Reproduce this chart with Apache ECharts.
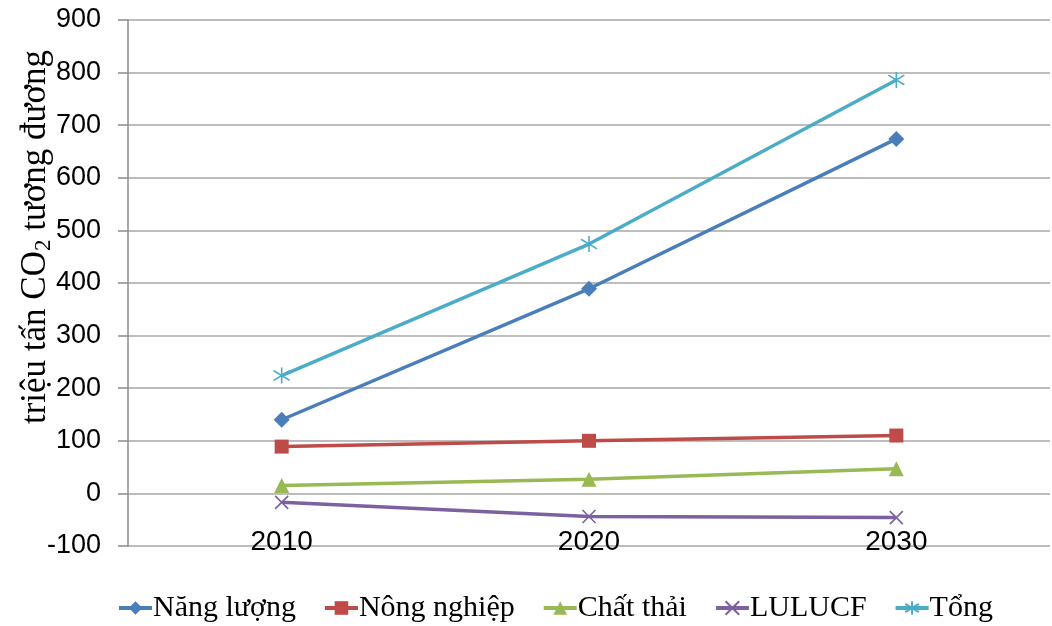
<!DOCTYPE html>
<html>
<head>
<meta charset="utf-8">
<script src="https://cdn.jsdelivr.net/npm/echarts@6/dist/echarts.min.js"></script>
<style>html,body{margin:0;padding:0;background:#fff}#c{width:1052px;height:626px}</style>
</head>
<body>
<div id="c"></div>
<script>
var categories = ['2010', '2020', '2030'];
var nangLuong = [140, 389, 674];
var nongNghiep = [89, 100, 110];
var chatThai = [15, 27, 47];
var lulucf = [-17, -44, -46];
var tong = [224, 474, 786];
var yTicks = { min: -100, max: 900, interval: 100 };

var chart = echarts.init(document.getElementById('c'));
function mk(name, data, color, symbol, size, hollow) {
  return {
    name: name, type: 'line', data: data, color: color,
    symbol: symbol, symbolSize: size, showSymbol: true,
    lineStyle: { color: color, width: 3.5 },
    itemStyle: hollow ? { color: 'rgba(0,0,0,0)', borderColor: color, borderWidth: 1.6 } : { color: color },
    emphasis: { disabled: true }, animation: false
  };
}
var xPath = 'path://M0,0L10,10M10,0L0,10';
var starPath = 'path://M5,0L5,10M0,2L10,8M0,8L10,2';
chart.setOption({
  animation: false,
  grid: { left: 128, right: 2, top: 20, bottom: 80, containLabel: false, outerBoundsMode: 'none' },
  legend: {
    left: 112, top: 588, itemWidth: 33, itemHeight: 17, itemGap: 27,
    lineStyle: { width: 4 },
    textStyle: { fontFamily: 'Liberation Serif', fontSize: 30, color: '#000', padding: [0,0,0,-4] },
    data: ['Năng lượng', 'Nông nghiệp', 'Chất thải', 'LULUCF', 'Tổng']
  },
  xAxis: {
    type: 'category', data: categories, boundaryGap: true,
    axisLine: { show: false, onZero: false },
    axisTick: { show: false },
    axisLabel: { margin: -18, fontFamily: 'Liberation Sans', fontSize: 28, color: '#000' }
  },
  yAxis: {
    type: 'value', min: yTicks.min, max: yTicks.max, interval: yTicks.interval,
    axisLine: { show: true, lineStyle: { color: '#8c8c8c', width: 1.5 } },
    axisTick: { show: true, length: 10, lineStyle: { color: '#8c8c8c', width: 1.5 } },
    splitLine: { lineStyle: { color: '#bdbdbd', width: 2 } },
    axisLabel: { margin: 27, fontFamily: 'Liberation Sans', fontSize: 27, color: '#000' },
    name: '{a|triệu tấn CO}{b|2}{a| tương đương}',
    nameLocation: 'middle', nameGap: 73, nameMoveOverlap: false,
    nameTextStyle: {
      padding: [0, 0, 0, 92],
      rich: {
        a: { fontFamily: 'Liberation Serif', fontSize: 35, color: '#000' },
        b: { fontFamily: 'Liberation Serif', fontSize: 23, color: '#000', verticalAlign: 'bottom', padding: [16, 0, 0, 0] }
      }
    }
  },
  series: [
    mk('Năng lượng', nangLuong, '#4A7EBB', 'diamond', 16, false),
    mk('Nông nghiệp', nongNghiep, '#BE4B48', 'rect', 14, false),
    mk('Chất thải', chatThai, '#98B954', 'triangle', 15, false),
    mk('LULUCF', lulucf, '#7D60A0', xPath, 13, true),
    mk('Tổng', tong, '#4BACC6', starPath, 16, true)
  ]
});
</script>
</body>
</html>
